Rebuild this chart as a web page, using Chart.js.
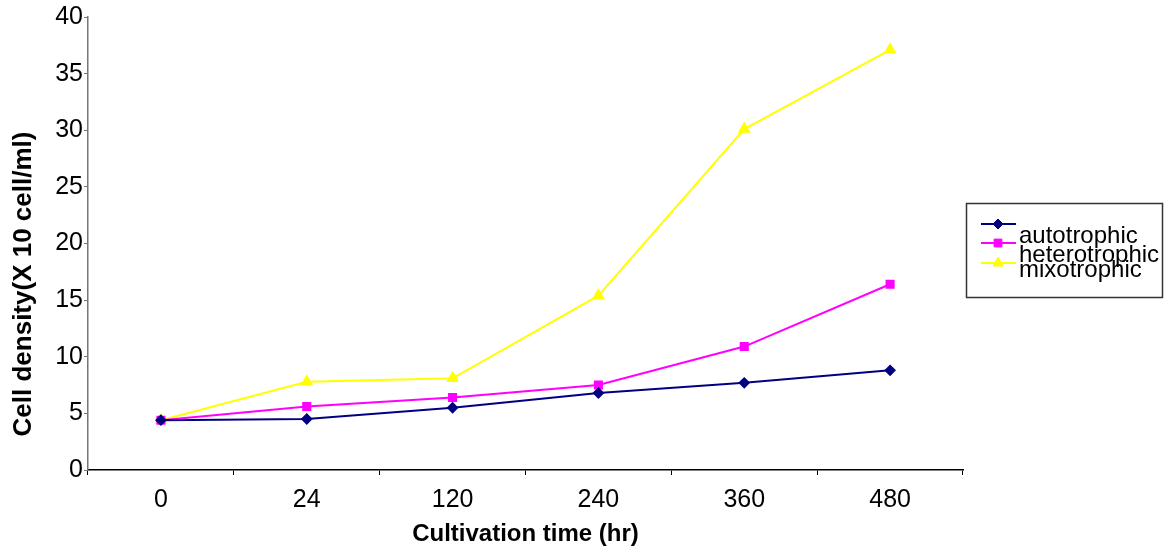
<!DOCTYPE html>
<html>
<head>
<meta charset="utf-8">
<script src="https://cdn.jsdelivr.net/npm/chart.js@4.4.1/dist/chart.umd.min.js"></script>
<style>
  html, body { margin: 0; padding: 0; background: #fff; }
  #wrap { width: 1168px; height: 546px; position: relative; }
</style>
</head>
<body>
<div id="wrap"><canvas id="myChart" width="1168" height="546"></canvas></div>
<script>
const hours = ["0", "24", "120", "240", "360", "480"];
const autotrophic = [4.4, 4.5, 5.5, 6.8, 7.7, 8.8];
const heterotrophic = [4.4, 5.6, 6.4, 7.5, 10.9, 16.4];
const mixotrophic = [4.4, 7.8, 8.1, 15.4, 30.1, 37.1];
const yTicks = [0, 5, 10, 15, 20, 25, 30, 35, 40];
const yTitle = "Cell density(X 10 cell/ml)";

const SANS = "'Liberation Sans', Arial, sans-serif";

// legend and y title drawn by hand, the original has overlapping labels
const extras = {
  id: "extras",
  afterDraw(chart) {
    const ctx = chart.ctx;
    ctx.save();
    ctx.strokeStyle = "#333";
    ctx.lineWidth = 1.5;
    ctx.strokeRect(966.5, 203.5, 196, 94);
    const lineY = [224, 243, 263];
    const textY = [243, 262, 277];
    chart.data.datasets.forEach((ds, i) => {
      ctx.strokeStyle = ds.borderColor;
      ctx.fillStyle = ds.backgroundColor;
      ctx.lineWidth = 2;
      ctx.beginPath();
      ctx.moveTo(981, lineY[i]);
      ctx.lineTo(1016, lineY[i]);
      ctx.stroke();
      ctx.lineWidth = 1;
      Chart.helpers.drawPoint(ctx, {
        pointStyle: ds.pointStyle,
        radius: ds.pointRadius + 0.5,
        borderWidth: 1
      }, 998, lineY[i]);
      ctx.fillStyle = "#000";
      ctx.font = "24px " + SANS;
      ctx.textBaseline = "alphabetic";
      ctx.textAlign = "left";
      ctx.fillText(ds.label, 1019, textY[i]);
    });

    ctx.translate(24, 284);
    ctx.rotate(-Math.PI / 2);
    ctx.font = "bold 26px " + SANS;
    ctx.textAlign = "center";
    ctx.textBaseline = "middle";
    ctx.fillStyle = "#000";
    ctx.fillText(yTitle, 0, 0);
    ctx.restore();
  }
};

const ctx = document.getElementById("myChart").getContext("2d");
const myChart = new Chart(ctx, {
  type: "line",
  data: {
    labels: hours,
    datasets: [
      {
        label: "autotrophic",
        data: autotrophic,
        borderColor: "#000080",
        backgroundColor: "#000080",
        pointStyle: "rectRot",
        pointRadius: 4.5,
        borderWidth: 2,
      },
      {
        label: "heterotrophic",
        data: heterotrophic,
        borderColor: "#FF00FF",
        backgroundColor: "#FF00FF",
        pointStyle: "rect",
        pointRadius: 5,
        borderWidth: 2,
      },
      {
        label: "mixotrophic",
        data: mixotrophic,
        borderColor: "#FFFF00",
        backgroundColor: "#FFFF00",
        pointStyle: "triangle",
        pointRadius: 5.5,
        borderWidth: 2,
      },
    ],
  },
  options: {
    responsive: false,
    animation: false,
    layout: { padding: { top: 17, right: 205, bottom: 0, left: 0 } },
    elements: { line: { tension: 0 }, point: { borderWidth: 1 } },
    plugins: {
      legend: { display: false },
      tooltip: { enabled: false },
    },
    scales: {
      x: {
        offset: true,
        grid: {
          offset: true,
          drawOnChartArea: false,
          drawTicks: true,
          tickLength: 5,
          color: "#000",
        },
        border: { color: "#000", width: 1.5 },
        ticks: {
          color: "#000",
          padding: 10,
          maxRotation: 0,
          font: { family: SANS, size: 25 },
        },
        title: {
          display: true,
          text: "Cultivation time (hr)",
          color: "#000",
          padding: { top: 4, bottom: 0 },
          font: { family: SANS, size: 24, weight: "bold", lineHeight: 1 },
        },
        afterFit(scale) { scale.height = 76; },
      },
      y: {
        min: 0,
        max: 40,
        afterBuildTicks(scale) { scale.ticks = yTicks.map(v => ({ value: v })); },
        grid: {
          drawOnChartArea: false,
          drawTicks: true,
          tickLength: 4,
          color: "#777",
        },
        border: { color: "#777", width: 1.5 },
        ticks: {
          color: "#000",
          padding: 1,
          font: { family: SANS, size: 25 },
        },
        afterFit(scale) { scale.width = 88; },
      },
    },
  },
  plugins: [extras],
});
</script>
</body>
</html>
